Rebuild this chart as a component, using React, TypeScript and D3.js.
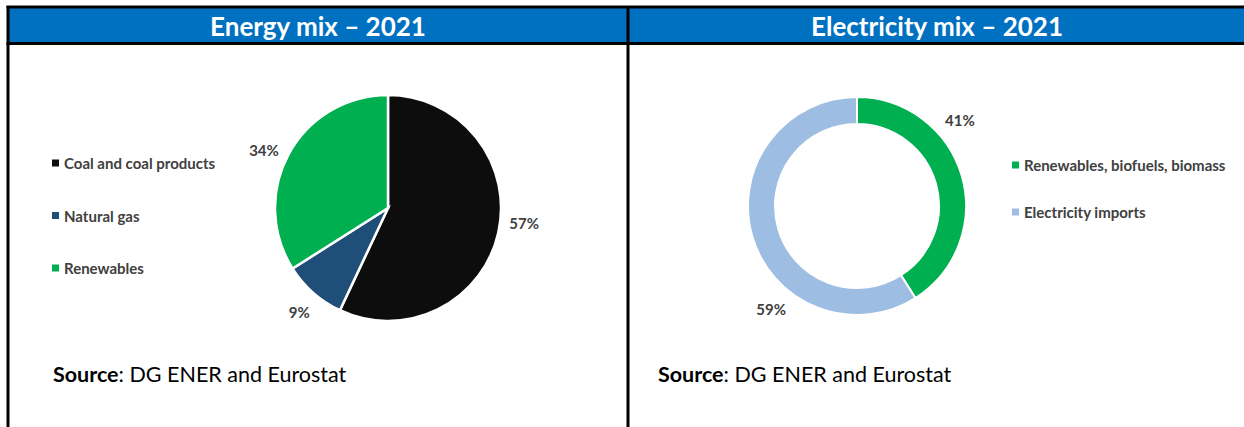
import React from 'react'
import { pie, arc, PieArcDatum } from 'd3'

// Data
const energyLabels = ['Coal and coal products', 'Natural gas', 'Renewables']
const energyValues = [57, 9, 34]
const energyColors = ['#0d0d0d', '#1f4e79', '#00b050']

const elecLabels = ['Renewables, biofuels, biomass', 'Electricity imports']
const elecValues = [41, 59]
const elecColors = ['#00b050', '#9dbde2']

const titles = ['Energy mix – 2021', 'Electricity mix – 2021']

const W = 1244
const H = 427
const font = 'Lato, Calibri, "Open Sans", sans-serif'

type Item = { label: string; value: number; color: string }

const toItems = (labels: string[], values: number[], colors: string[]): Item[] =>
    labels.map((l, i) => ({ label: l, value: values[i], color: colors[i] }))

const pieGen = pie<Item>().value(d => d.value).sort(null)

// label spot: a fraction of the way through the slice, at radius rr
const labelPos = (a: PieArcDatum<Item>, frac: number, rr: number) => {
    const ang = a.startAngle + (a.endAngle - a.startAngle) * frac
    return [Math.sin(ang) * rr, -Math.cos(ang) * rr]
}

const EnergyPie = () => {
    const cx = 388, cy = 208, r = 113
    const arcs = pieGen(toItems(energyLabels, energyValues, energyColors))
    const path = arc<PieArcDatum<Item>>().innerRadius(0).outerRadius(r)
    return (
        <g transform={`translate(${cx},${cy})`}>
            {arcs.map((a, i) => (
                <path key={i} d={path(a) || ''} fill={a.data.color} stroke="#fff" strokeWidth={2.5} />
            ))}
            {arcs.map((a, i) => {
                const [x, y] = labelPos(a, 0.47, 137)
                return (
                    <text key={i} x={x} y={y} textAnchor="middle" dominantBaseline="central"
                        fontSize={15} fontWeight={700} fill="#404040" fontFamily={font}>
                        {a.data.value}%
                    </text>
                )
            })}
        </g>
    )
}

const ElecDonut = () => {
    const cx = 857, cy = 206, r = 109
    const arcs = pieGen(toItems(elecLabels, elecValues, elecColors))
    const path = arc<PieArcDatum<Item>>().innerRadius(82).outerRadius(r)
    return (
        <g transform={`translate(${cx},${cy})`}>
            {arcs.map((a, i) => (
                <path key={i} d={path(a) || ''} fill={a.data.color} stroke="#fff" strokeWidth={2} />
            ))}
            {arcs.map((a, i) => {
                const [x, y] = labelPos(a, 0.34, 134)
                return (
                    <text key={i} x={x} y={y} textAnchor="middle" dominantBaseline="central"
                        fontSize={15} fontWeight={700} fill="#404040" fontFamily={font}>
                        {a.data.value}%
                    </text>
                )
            })}
        </g>
    )
}

const Legend = (props: { x: number; y: number; gap: number; labels: string[]; colors: string[] }) => (
    <g transform={`translate(${props.x},${props.y})`}>
        {props.labels.map((l, i) => (
            <g key={i} transform={`translate(0,${i * props.gap})`}>
                <rect x={0} y={-3.5} width={7} height={7} fill={props.colors[i]} />
                <text x={12} y={0} dominantBaseline="central" fontSize={15} fontWeight={700}
                    fill="#404040" fontFamily={font}>{l}</text>
            </g>
        ))}
    </g>
)

const Source = (props: { x: number }) => (
    <text x={props.x} y={382} fontSize={21.5} fill="#000" fontFamily={font}>
        <tspan fontWeight={700}>Source</tspan>: DG ENER and Eurostat
    </text>
)

const App = () => (
    <svg width={W} height={H} style={{ position: 'absolute', left: 0, top: 0, background: '#fff' }}>
        <rect x={8} y={7} width={W} height={36} fill="#0070c0" />
        <text x={318} y={26} textAnchor="middle" dominantBaseline="central" fontSize={26} fontWeight={700}
            fill="#fff" fontFamily={font}>{titles[0]}</text>
        <text x={937} y={26} textAnchor="middle" dominantBaseline="central" fontSize={26} fontWeight={700}
            fill="#fff" fontFamily={font}>{titles[1]}</text>
        {/* borders */}
        <line x1={6.5} x2={W} y1={7} y2={7} stroke="#000" strokeWidth={3} />
        <line x1={6.5} x2={W} y1={43.5} y2={43.5} stroke="#000" strokeWidth={3} />
        <line x1={8} x2={8} y1={6} y2={H} stroke="#000" strokeWidth={3} />
        <line x1={628} x2={628} y1={6} y2={H} stroke="#000" strokeWidth={3} />

        <Legend x={52} y={163} gap={52.5} labels={energyLabels} colors={energyColors} />
        <EnergyPie />
        <ElecDonut />
        <Legend x={1012} y={165} gap={47} labels={elecLabels} colors={elecColors} />
        <Source x={53} />
        <Source x={658} />
    </svg>
)

export default App
